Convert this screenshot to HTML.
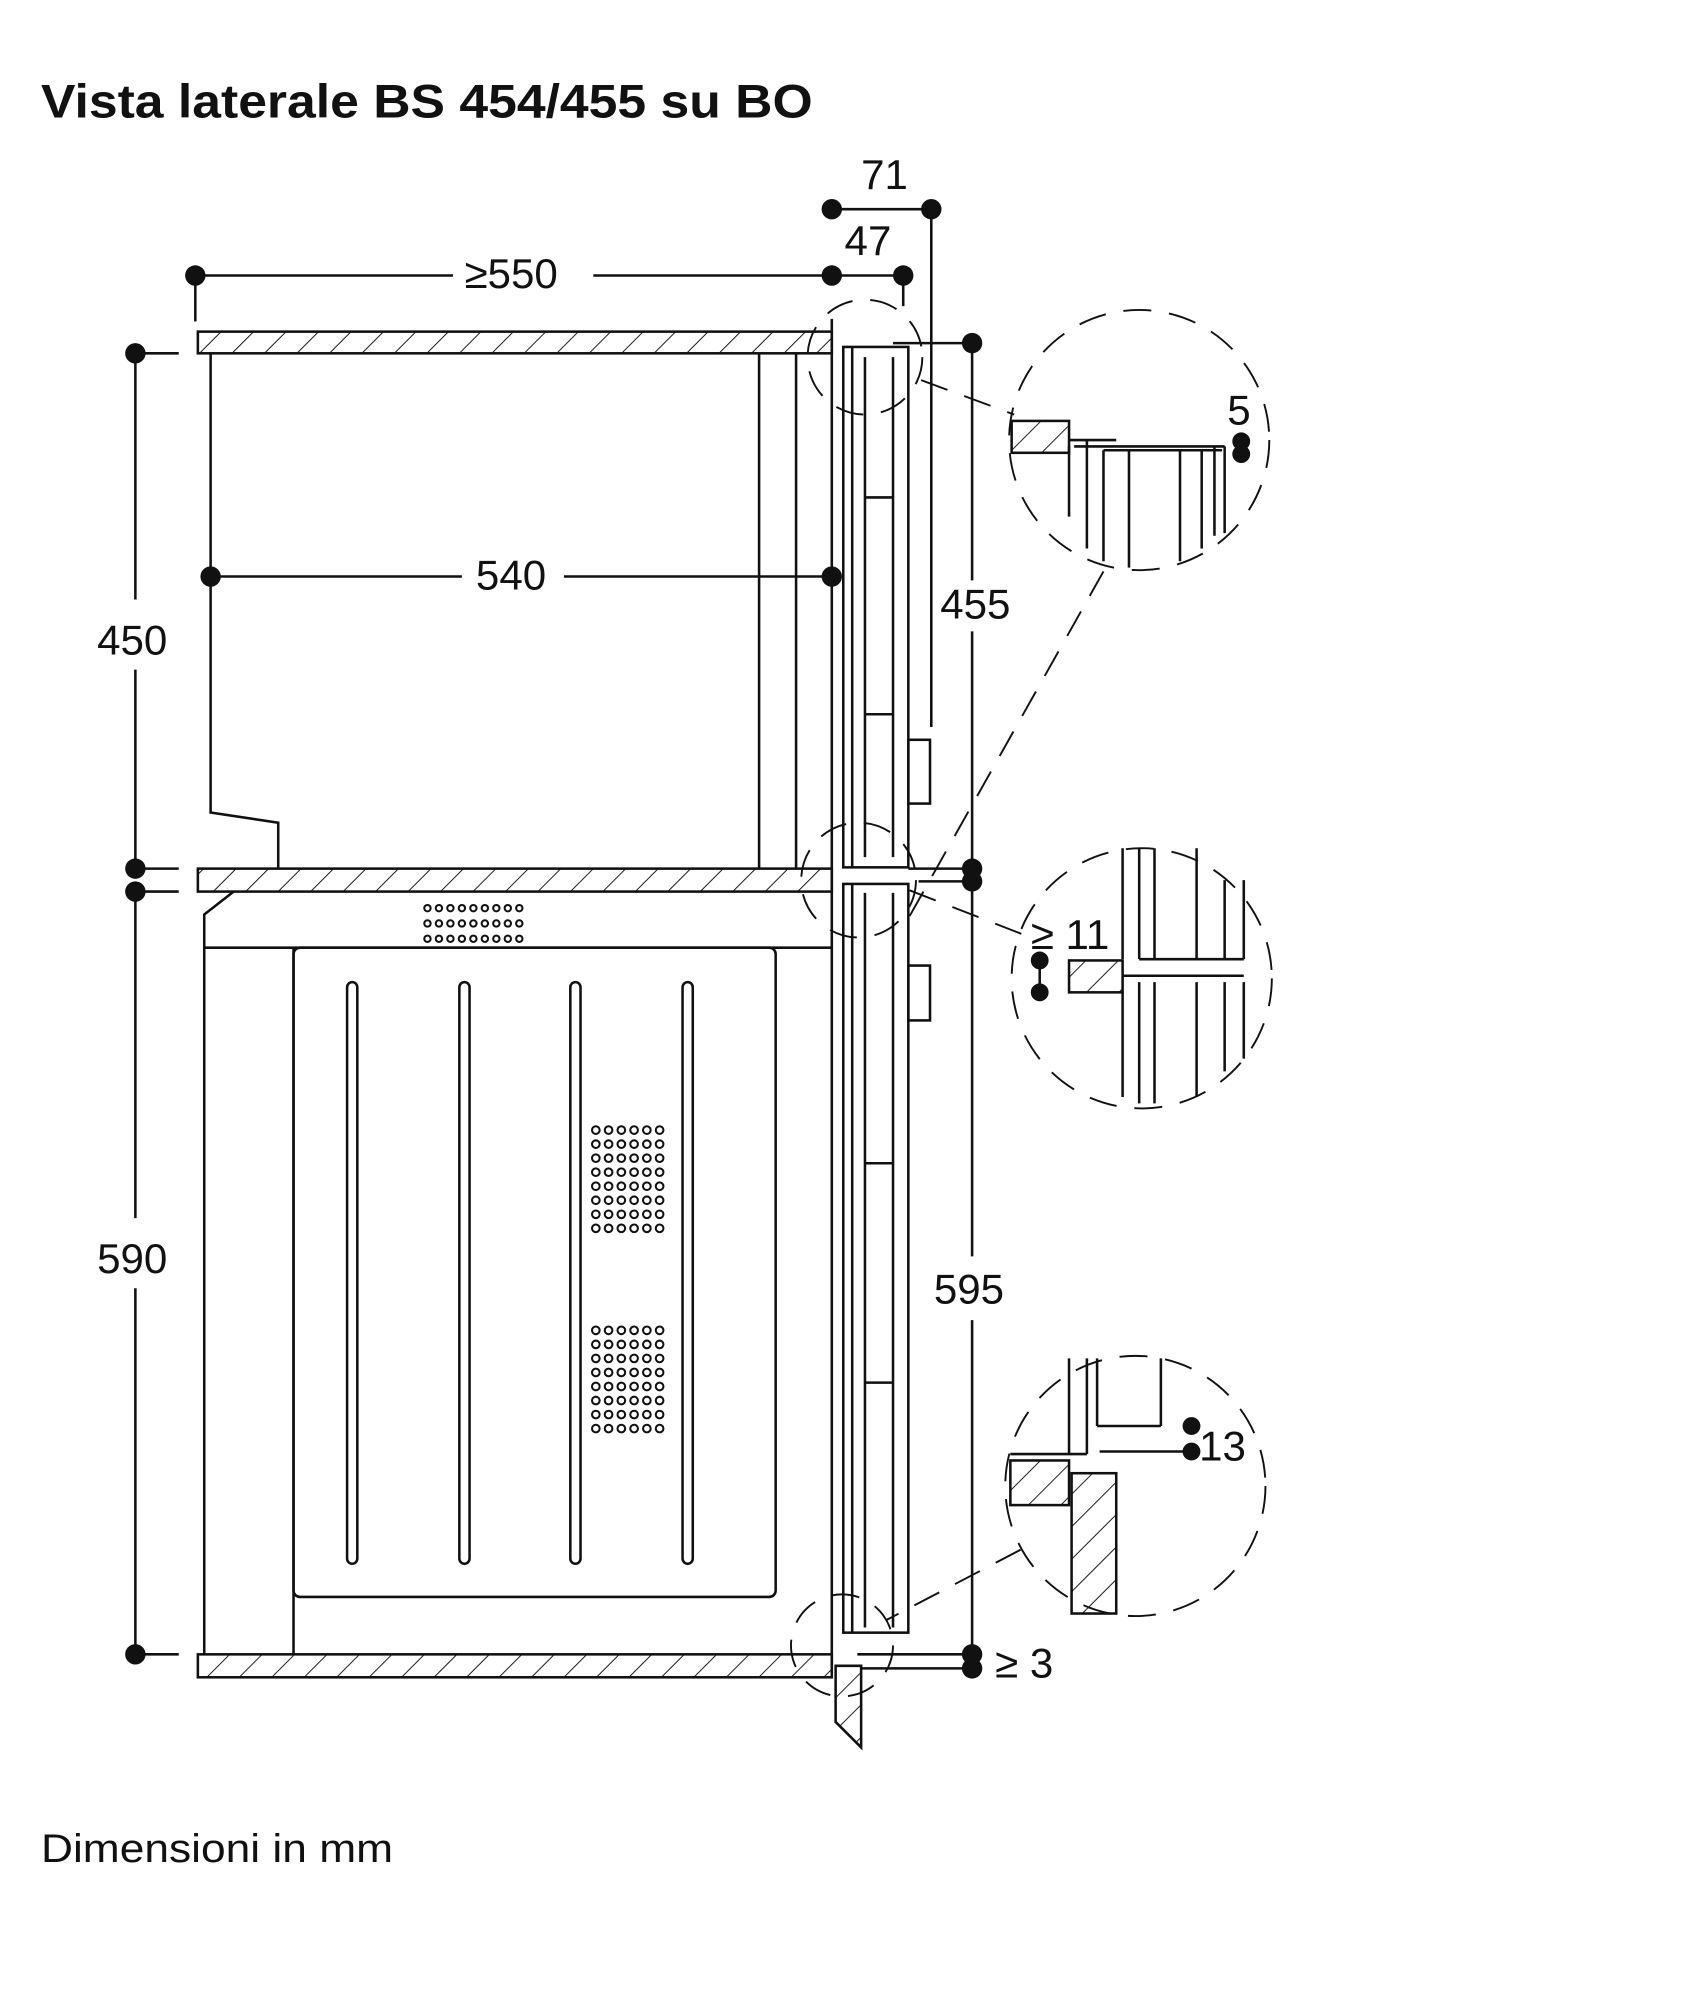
<!DOCTYPE html>
<html><head><meta charset="utf-8"><style>
html,body{margin:0;padding:0;background:#fff}
svg{display:block}
text{font-family:"Liberation Sans",sans-serif;fill:#111}
</style></head><body>
<svg width="1684" height="2000" viewBox="0 0 1320 1568" xmlns="http://www.w3.org/2000/svg">
<defs>
<pattern id="h" patternUnits="userSpaceOnUse" width="18" height="18" patternTransform="rotate(45)">
<line x1="0" y1="0" x2="0" y2="18" stroke="#111" stroke-width="1.5"/>
</pattern>
</defs>
<rect width="1320" height="1568" fill="#fff"/>
<text x="32" y="92" font-size="37" font-weight="bold" textLength="605" lengthAdjust="spacingAndGlyphs">Vista laterale BS 454/455 su BO</text>
<text x="32" y="1460" font-size="31" textLength="276" lengthAdjust="spacingAndGlyphs">Dimensioni in mm</text>

<g stroke="#111" stroke-width="2" fill="none">
<rect x="155" y="260" width="497" height="17" fill="url(#h)"/>
<rect x="155" y="681" width="497" height="18" fill="url(#h)"/>
<rect x="155" y="1297" width="497" height="18" fill="url(#h)"/>
<polyline points="165,277 165,637 218,645 218,681"/>
<line x1="595" y1="277" x2="595" y2="681"/>
<line x1="624" y1="277" x2="624" y2="681"/>
<line x1="652" y1="250" x2="652" y2="1305"/>
<rect x="661" y="272" width="51" height="408"/>
<line x1="668" y1="272" x2="668" y2="680"/>
<line x1="678" y1="280" x2="678" y2="672"/>
<line x1="700" y1="280" x2="700" y2="672"/>
<line x1="678" y1="390" x2="700" y2="390"/>
<line x1="678" y1="560" x2="700" y2="560"/>
<rect x="712" y="580" width="17" height="50"/>
<rect x="661" y="693" width="51" height="587"/>
<line x1="668" y1="693" x2="668" y2="1280"/>
<line x1="678" y1="700" x2="678" y2="1276"/>
<line x1="700" y1="700" x2="700" y2="1276"/>
<line x1="678" y1="912" x2="700" y2="912"/>
<line x1="678" y1="1084" x2="700" y2="1084"/>
<rect x="712" y="757" width="17" height="43"/>
<polyline points="160,1297 160,717 183,699"/>
<line x1="160" y1="743" x2="652" y2="743"/>
<line x1="230" y1="743" x2="230" y2="1297"/>
<rect x="230" y="743" width="378" height="509" rx="5"/>
<rect x="272" y="770" width="8" height="456" rx="4"/>
<rect x="360" y="770" width="8" height="456" rx="4"/>
<rect x="447" y="770" width="8" height="456" rx="4"/>
<rect x="535" y="770" width="8" height="456" rx="4"/>
<polygon points="655,1306 675,1306 675,1370 655,1350" fill="url(#h)"/>
<line x1="153" y1="216" x2="355" y2="216"/><line x1="465" y1="216" x2="652" y2="216"/>
<line x1="153" y1="216" x2="153" y2="252"/>
<line x1="652" y1="164" x2="730" y2="164"/>
<line x1="652" y1="216" x2="708" y2="216"/>
<line x1="730" y1="164" x2="730" y2="570"/>
<line x1="708" y1="216" x2="708" y2="240"/>
<line x1="165" y1="452" x2="362" y2="452"/><line x1="442" y1="452" x2="652" y2="452"/>
<line x1="106" y1="277" x2="106" y2="470"/><line x1="106" y1="525" x2="106" y2="681"/>
<line x1="106" y1="699" x2="106" y2="955"/><line x1="106" y1="1010" x2="106" y2="1297"/>
<line x1="106" y1="277" x2="140" y2="277"/><line x1="106" y1="681" x2="140" y2="681"/>
<line x1="106" y1="699" x2="140" y2="699"/><line x1="106" y1="1297" x2="140" y2="1297"/>
<line x1="762" y1="269" x2="762" y2="455"/><line x1="762" y1="495" x2="762" y2="681"/>
<line x1="762" y1="691" x2="762" y2="985"/><line x1="762" y1="1035" x2="762" y2="1297"/>
<line x1="700" y1="269" x2="762" y2="269"/>
<line x1="712" y1="681" x2="762" y2="681"/><line x1="720" y1="691" x2="762" y2="691"/>
<line x1="672" y1="1297" x2="762" y2="1297"/><line x1="675" y1="1308" x2="762" y2="1308"/>
</g>

<g fill="#111">
<circle cx="153" cy="216" r="8"/><circle cx="652" cy="216" r="8"/><circle cx="708" cy="216" r="8"/>
<circle cx="652" cy="164" r="8"/><circle cx="730" cy="164" r="8"/>
<circle cx="165" cy="452" r="8"/><circle cx="652" cy="452" r="8"/>
<circle cx="106" cy="277" r="8"/><circle cx="106" cy="681" r="8"/><circle cx="106" cy="699" r="8"/><circle cx="106" cy="1297" r="8"/>
<circle cx="762" cy="269" r="8"/><circle cx="762" cy="681" r="8"/><circle cx="762" cy="691" r="8"/><circle cx="762" cy="1297" r="8"/><circle cx="762" cy="1308" r="8"/>
</g>

<g font-size="33">
<text x="364" y="226">≥550</text>
<text x="675" y="148">71</text>
<text x="662" y="200">47</text>
<text x="373" y="462">540</text>
<text x="76" y="513">450</text>
<text x="76" y="998">590</text>
<text x="737" y="485">455</text>
<text x="732" y="1022">595</text>
<text x="780" y="1315">≥ 3</text>
<text x="962" y="333">5</text>
<text x="808" y="744">≥ 11</text>
<text x="940" y="1145">13</text>
</g>

<g fill="none" stroke="#111" stroke-width="1.6">
<g id="vr">
<circle cx="335" cy="712" r="2.5"/><circle cx="344" cy="712" r="2.5"/><circle cx="353" cy="712" r="2.5"/><circle cx="362" cy="712" r="2.5"/><circle cx="371" cy="712" r="2.5"/><circle cx="380" cy="712" r="2.5"/><circle cx="389" cy="712" r="2.5"/><circle cx="398" cy="712" r="2.5"/><circle cx="407" cy="712" r="2.5"/>
</g>
<use href="#vr" y="12"/><use href="#vr" y="24"/>
<g id="gr">
<circle cx="467" cy="886" r="3"/><circle cx="477" cy="886" r="3"/><circle cx="487" cy="886" r="3"/><circle cx="497" cy="886" r="3"/><circle cx="507" cy="886" r="3"/><circle cx="517" cy="886" r="3"/>
</g>
<use href="#gr" y="11"/><use href="#gr" y="22"/><use href="#gr" y="33"/><use href="#gr" y="44"/><use href="#gr" y="55"/><use href="#gr" y="66"/><use href="#gr" y="77"/>
<use href="#gr" y="157"/><use href="#gr" y="168"/><use href="#gr" y="179"/><use href="#gr" y="190"/><use href="#gr" y="201"/><use href="#gr" y="212"/><use href="#gr" y="223"/><use href="#gr" y="234"/>
</g>

<g fill="none" stroke="#111" stroke-width="1.5" stroke-dasharray="22 14">
<circle cx="893" cy="345" r="102"/>
<circle cx="895" cy="767" r="102"/>
<circle cx="890" cy="1165" r="102"/>
<circle cx="678" cy="280" r="45"/>
<circle cx="673" cy="690" r="45"/>
<circle cx="660" cy="1290" r="40"/>
<line x1="722" y1="298" x2="795" y2="325"/>
<line x1="865" y1="448" x2="712" y2="720"/>
<line x1="713" y1="698" x2="808" y2="735"/>
<line x1="800" y1="1215" x2="695" y2="1270"/>
</g>

<g stroke="#111" stroke-width="2" fill="none">
<rect x="793" y="330" width="45" height="25" fill="url(#h)"/>
<line x1="838" y1="345" x2="875" y2="345"/><line x1="838" y1="350" x2="838" y2="405"/>
<line x1="842" y1="350" x2="960" y2="350"/><line x1="852" y1="345" x2="852" y2="430"/>
<line x1="865" y1="353" x2="865" y2="440"/><line x1="885" y1="353" x2="885" y2="445"/>
<line x1="865" y1="353" x2="958" y2="353"/><line x1="925" y1="353" x2="925" y2="440"/>
<line x1="942" y1="353" x2="942" y2="430"/><line x1="952" y1="350" x2="952" y2="420"/><line x1="960" y1="350" x2="960" y2="418"/>
<line x1="880" y1="665" x2="880" y2="752"/><line x1="893" y1="665" x2="893" y2="752"/><line x1="905" y1="665" x2="905" y2="752"/>
<line x1="938" y1="665" x2="938" y2="752"/><line x1="960" y1="690" x2="960" y2="752"/><line x1="975" y1="690" x2="975" y2="752"/>
<line x1="893" y1="752" x2="975" y2="752"/>
<rect x="838" y="753" width="42" height="25" fill="url(#h)"/>
<line x1="880" y1="765" x2="975" y2="765"/>
<line x1="880" y1="778" x2="880" y2="860"/><line x1="893" y1="770" x2="893" y2="865"/><line x1="905" y1="770" x2="905" y2="865"/>
<line x1="938" y1="770" x2="938" y2="860"/><line x1="960" y1="770" x2="960" y2="840"/><line x1="975" y1="770" x2="975" y2="830"/>
<line x1="815" y1="753" x2="815" y2="778"/>
<line x1="838" y1="1065" x2="838" y2="1140"/><line x1="852" y1="1065" x2="852" y2="1140"/>
<line x1="860" y1="1065" x2="860" y2="1118"/><line x1="910" y1="1065" x2="910" y2="1118"/><line x1="860" y1="1118" x2="910" y2="1118"/>
<line x1="792" y1="1140" x2="852" y2="1140"/><line x1="862" y1="1138" x2="934" y2="1138"/>
<rect x="792" y="1145" width="46" height="35" fill="url(#h)"/>
<rect x="840" y="1155" width="35" height="110" fill="url(#h)"/>
</g>
<g fill="#111">
<circle cx="973" cy="346" r="7"/><circle cx="973" cy="356" r="7"/>
<circle cx="815" cy="753" r="7"/><circle cx="815" cy="778" r="7"/>
<circle cx="934" cy="1118" r="7"/><circle cx="934" cy="1138" r="7"/>
</g>
</svg>
</body></html>
